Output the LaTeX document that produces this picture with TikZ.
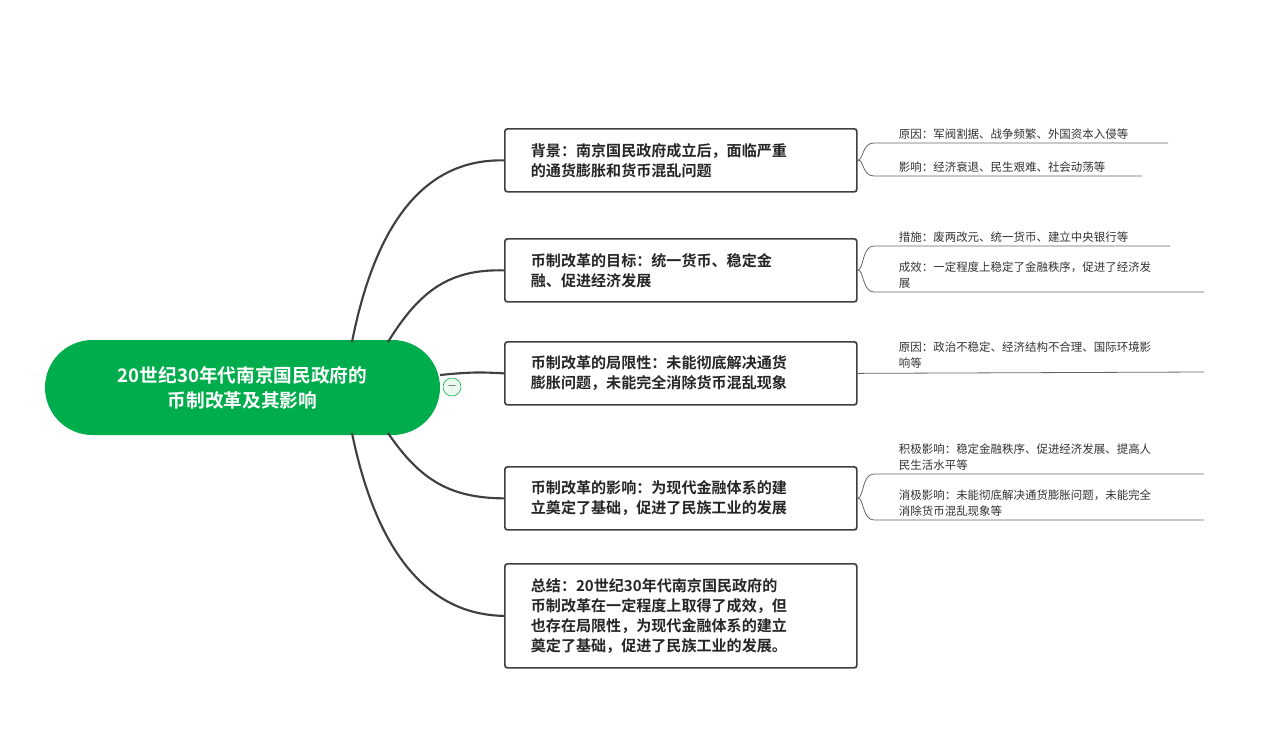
\documentclass[tikz,border=0pt]{standalone}
\usepackage{fontspec}
\newfontfamily\cjk{Noto Sans CJK SC}
\newfontfamily\cjkb{Noto Sans CJK SC Bold}
\begin{document}
\begin{tikzpicture}[x=0.75pt,y=-0.75pt,
  box/.style={draw=black!75,line width=1.3pt,rounded corners=2pt,minimum width=352*0.75pt,text width=300*0.75pt,align=left,inner xsep=13*0.75pt,font=\cjkb\fontsize{11.3pt}{15pt}\selectfont,text=black!85,anchor=north west},
  con/.style={draw=black!75,line width=1.6pt},
  lcon/.style={draw=black!60,line width=0.6pt},
  leaf/.style={font=\cjk\fontsize{8.6pt}{11.8pt}\selectfont,text=black!80,anchor=south west,align=left,inner sep=2pt}]
\useasboundingbox (0,0) rectangle (1278,743);
\fill[white] (0,0) rectangle (1278,743);
\node[fill={rgb,255:red,0;green,173;blue,76},rounded corners=47.5*0.75pt,minimum width=395*0.75pt,minimum height=95*0.75pt,text=white,font=\cjkb\fontsize{14pt}{19pt}\selectfont,align=center] (root) at (242.5,387.5) {20世纪30年代南京国民政府的\\币制改革及其影响};
\node[box,minimum height=63*0.75pt] (b1) at (504,128) {背景：南京国民政府成立后，面临严重\\的通货膨胀和货币混乱问题};
\node[box,minimum height=63*0.75pt] (b2) at (504,238) {币制改革的目标：统一货币、稳定金\\融、促进经济发展};
\node[box,minimum height=63*0.75pt] (b3) at (504,341) {币制改革的局限性：未能彻底解决通货\\膨胀问题，未能完全消除货币混乱现象};
\node[box,minimum height=63*0.75pt] (b4) at (504,466) {币制改革的影响：为现代金融体系的建\\立奠定了基础，促进了民族工业的发展};
\node[box,minimum height=104*0.75pt] (b5) at (504,563) {总结：20世纪30年代南京国民政府的\\币制改革在一定程度上取得了成效，但\\也存在局限性，为现代金融体系的建立\\奠定了基础，促进了民族工业的发展。};
\coordinate (r1) at (352,342); \coordinate (r2) at (388,342);
\coordinate (r4) at (388,433); \coordinate (r5) at (352,433);
\coordinate (r3) at (440,375);
\draw[con] (r1) .. controls (380,200) and (440,159) .. (b1.west);
\draw[con] (r2) .. controls (420,290) and (450,269) .. (b2.west);
\draw[con] (r3) .. controls (470,372) and (480,372) .. (b3.west);
\draw[con] (r4) .. controls (420,480) and (450,498) .. (b4.west);
\draw[con] (r5) .. controls (380,570) and (440,615) .. (b5.west);
\node[circle,draw={rgb,255:red,0;green,173;blue,76},fill={rgb,255:red,235;green,250;blue,238},minimum size=18*0.75pt,inner sep=0pt,font=\fontsize{8pt}{8pt}\selectfont] (m) at (452,387) {\textminus};
% leaves
\coordinate (l1) at (874,143); \coordinate (e1) at (1168,143);
\coordinate (l2) at (874,176); \coordinate (e2) at (1142,176);
\coordinate (l3) at (874,246); \coordinate (e3) at (1170,246);
\coordinate (l4) at (874,292); \coordinate (e4) at (1204,292);
\coordinate (l5) at (858,372); \coordinate (e5) at (1204,372);
\coordinate (l6) at (874,474); \coordinate (e6) at (1204,474);
\coordinate (l7) at (874,520); \coordinate (e7) at (1204,520);
\draw[lcon] (b1.east) .. controls (864,159) and (862,143) .. (l1) -- (e1);
\draw[lcon] (b1.east) .. controls (864,159) and (862,176) .. (l2) -- (e2);
\draw[lcon] (b2.east) .. controls (864,269) and (862,246) .. (l3) -- (e3);
\draw[lcon] (b2.east) .. controls (864,269) and (862,292) .. (l4) -- (e4);
\draw[lcon] (b3.east) -- (e5);
\draw[lcon] (b4.east) .. controls (864,497) and (862,474) .. (l6) -- (e6);
\draw[lcon] (b4.east) .. controls (864,497) and (862,520) .. (l7) -- (e7);
\node[leaf] (t1) at (896,142) {原因：军阀割据、战争频繁、外国资本入侵等};
\node[leaf] (t2) at (896,175) {影响：经济衰退、民生艰难、社会动荡等};
\node[leaf] (t3) at (896,245) {措施：废两改元、统一货币、建立中央银行等};
\node[leaf] (t4) at (896,291) {成效：一定程度上稳定了金融秩序，促进了经济发\\展};
\node[leaf] (t5) at (896,371) {原因：政治不稳定、经济结构不合理、国际环境影\\响等};
\node[leaf] (t6) at (896,473) {积极影响：稳定金融秩序、促进经济发展、提高人\\民生活水平等};
\node[leaf] (t7) at (896,519) {消极影响：未能彻底解决通货膨胀问题，未能完全\\消除货币混乱现象等};
\end{tikzpicture}
\end{document}
